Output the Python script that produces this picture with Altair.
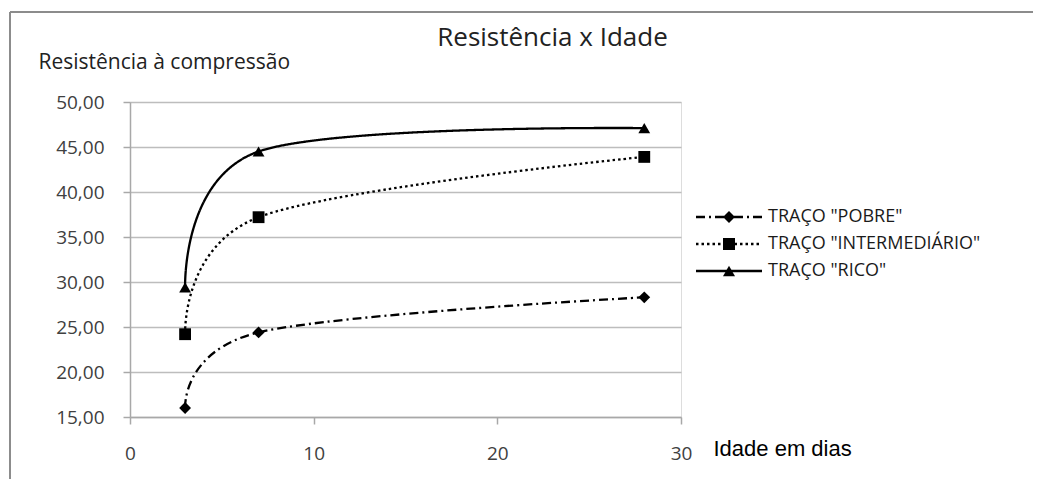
import altair as alt
import pandas as pd

# ---- data ----
dias = [3, 7, 28]
series = ['TRAÇO "POBRE"', 'TRAÇO "INTERMEDIÁRIO"', 'TRAÇO "RICO"']
pobre = [16.0, 24.4, 28.3]
intermediario = [24.2, 37.2, 43.9]
rico = [29.4, 44.5, 47.1]
y_ticks = [15, 20, 25, 30, 35, 40, 45, 50]
x_ticks = [0, 10, 20, 30]

rows = []
for s, vals in zip(series, [pobre, intermediario, rico]):
    for d, v in zip(dias, vals):
        rows.append({"dias": d, "res": v, "serie": s, "serie_m": s})
df = pd.DataFrame(rows)

FONT = "Open Sans"
GRAY = "#a8a8a8"

x_enc = alt.X(
    "dias:Q",
    scale=alt.Scale(domain=[0, 30], nice=False, zero=False),
    axis=alt.Axis(
        values=x_ticks, grid=False, domainColor=GRAY, domainWidth=1.5,
        tickColor=GRAY, tickWidth=1.5, tickSize=7, labelPadding=20,
        labelFont=FONT, labelFontSize=19, labelColor="#404040",
        labelFlush=False,
        title="Idade em dias", titleX=583, titleY=31, titleAlign="left",
        titleBaseline="middle", titleFont="Liberation Sans", titleFontSize=22,
        titleFontWeight="normal", titleColor="#000000",
    ),
)
y_enc = alt.Y(
    "res:Q",
    scale=alt.Scale(domain=[15, 50], nice=False, zero=False),
    axis=alt.Axis(
        values=y_ticks, grid=True, gridColor="#bdbdbd", gridWidth=1.5,
        domainColor=GRAY, domainWidth=1.5, tickColor=GRAY, tickWidth=1.5,
        tickSize=7, labelPadding=19, labelFont=FONT, labelFontSize=19,
        labelColor="#404040",
        labelExpr="replace(format(datum.value, '.2f'), '.', ',')",
        title="Resistência à compressão", titleAngle=0, titleX=-92, titleY=-34,
        titleAlign="left", titleBaseline="alphabetic", titleFont=FONT,
        titleFontSize=21, titleFontWeight="normal", titleColor="#222222",
    ),
)

lines = alt.Chart(df).mark_line(
    interpolate="cardinal", color="black", strokeWidth=2.3
).encode(
    x=x_enc,
    y=y_enc,
    strokeDash=alt.StrokeDash(
        "serie:N",
        scale=alt.Scale(domain=series, range=[[9, 4, 2, 4], [2.5, 3], [1, 0]]),
        legend=alt.Legend(
            title=None, orient="none", legendX=590, legendY=106, padding=0,
            symbolType="M-5.5,0H5.5", symbolSize=144, symbolStrokeWidth=2.3,
            symbolStrokeColor="black", labelOffset=30, labelFont=FONT,
            labelFontSize=18, labelColor="#1a1a1a", rowPadding=9,
            labelLimit=400,
        ),
    ),
    detail="serie:N",
)

points = alt.Chart(df).mark_point(filled=True, color="black", size=140, opacity=1).encode(
    x="dias:Q",
    y="res:Q",
    shape=alt.Shape(
        "serie_m:N",
        scale=alt.Scale(domain=series, range=["diamond", "square", "triangle-up"]),
        legend=alt.Legend(
            title=None, orient="none", legendX=590, legendY=106, padding=0,
            symbolSize=144, symbolFillColor="black", symbolStrokeWidth=0,
            labelOffset=30, labelFont=FONT, labelFontSize=18,
            labelColor="transparent", rowPadding=9, labelLimit=400,
        ),
    ),
)

frame_df = pd.DataFrame({"k": [0]})
top_border = alt.Chart(frame_df).mark_rule(color="#8c8c8c", strokeWidth=2).encode(
    x=alt.value(-120), x2=alt.value(911), y=alt.value(-90)
)
left_border = alt.Chart(frame_df).mark_rule(color="#8c8c8c", strokeWidth=2).encode(
    x=alt.value(-120), y=alt.value(-90), y2=alt.value(385)
)

chart = alt.layer(top_border, left_border, lines, points).resolve_legend(
    strokeDash="independent", shape="independent"
).properties(
    width=551,
    height=315,
    autosize=alt.AutoSizeParams(type="none"),
    padding={"left": 122, "top": 94, "right": 352, "bottom": 62},
    title=alt.TitleParams(
        "Resistência x Idade", anchor="middle", frame="group", dx=147,
        font=FONT, fontSize=26, fontWeight="normal", color="#222222",
        baseline="alphabetic", offset=0, dy=61,
    ),
).configure_view(stroke=None).configure(background="white")

chart.save("out.html", embed_options={"renderer": "svg", "actions": False})
